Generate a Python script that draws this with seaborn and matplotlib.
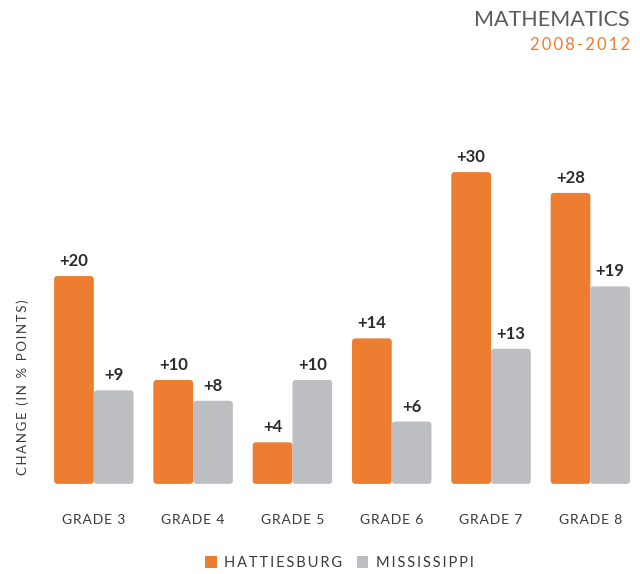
import pandas as pd
import matplotlib.pyplot as plt
import seaborn as sns
from matplotlib.patches import FancyBboxPatch, Patch

# Data
grades = ["GRADE 3", "GRADE 4", "GRADE 5", "GRADE 6", "GRADE 7", "GRADE 8"]
hattiesburg = [20, 10, 4, 14, 30, 28]
mississippi = [9, 8, 10, 6, 13, 19]
districts = ["HATTIESBURG", "MISSISSIPPI"]

ORANGE = "#ED7D31"
GRAY = "#BDBEC1"
TEXT = "#3a3a3a"


def spaced(s, gap="\u2009"):
    # fake letter spacing with thin spaces
    return gap.join(s)


df = pd.DataFrame({
    "Grade": grades * 2,
    "District": [districts[0]] * len(grades) + [districts[1]] * len(grades),
    "Change": hattiesburg + mississippi,
})

sns.set_theme(style="white")
plt.rcParams["font.family"] = ["Lato", "DejaVu Sans"]

fig = plt.figure(figsize=(6.4, 5.74), dpi=100)
ax = fig.add_axes([0.069, 0.157, 0.931, 0.688])

sns.barplot(data=df, x="Grade", y="Change", hue="District",
            palette=[ORANGE, GRAY], saturation=1, width=0.8,
            legend=False, ax=ax)

ax.set_xlim(-0.5, 5.5)
ax.set_ylim(0, 38)

# swap plain rectangles for rounded ones
r = 0.035
for cont in ax.containers:
    for rect in cont:
        x, y = rect.get_x(), rect.get_y()
        w, h = rect.get_width(), rect.get_height()
        rb = FancyBboxPatch((x, y), w, h,
                            boxstyle=f"round,pad=0,rounding_size={r}",
                            mutation_aspect=9.5,
                            facecolor=rect.get_facecolor(), edgecolor="none")
        rect.set_visible(False)
        ax.add_patch(rb)

for cont, vals in zip(ax.containers, [hattiesburg, mississippi]):
    ax.bar_label(cont, labels=[f"+{v}" for v in vals], padding=5,
                 fontsize=12, fontweight="bold", color="#2b2b2b")

for s in ax.spines.values():
    s.set_visible(False)
ax.set_yticks([])
ax.set_xlabel("")
ax.set_ylabel("")
ax.set_xticks(range(len(grades)))
ax.set_xticklabels([spaced(g, "\u200a") for g in grades], fontsize=10,
                   color=TEXT)
ax.tick_params(axis="x", length=0, pad=22)

fig.text(0.035, 0.325, spaced("CHANGE (IN % POINTS)"), rotation=90,
         ha="center", va="center", fontsize=9.5, color=TEXT)

fig.text(0.984, 0.965, "MATHEMATICS", ha="right", va="center",
         fontsize=15.5, color="#5a5a5a")
fig.text(0.984, 0.922, spaced("2008-2012"), ha="right", va="center",
         fontsize=12, color=ORANGE)

handles = [Patch(facecolor=ORANGE, edgecolor="none"),
           Patch(facecolor=GRAY, edgecolor="none")]
fig.legend(handles, [spaced(d) for d in districts], ncol=2,
           loc="center", bbox_to_anchor=(0.53, 0.019), frameon=False,
           handlelength=0.8, handleheight=0.8, handletextpad=0.5,
           columnspacing=1.0, fontsize=10.5, labelcolor=TEXT)

fig.savefig("out.png", dpi=100)
